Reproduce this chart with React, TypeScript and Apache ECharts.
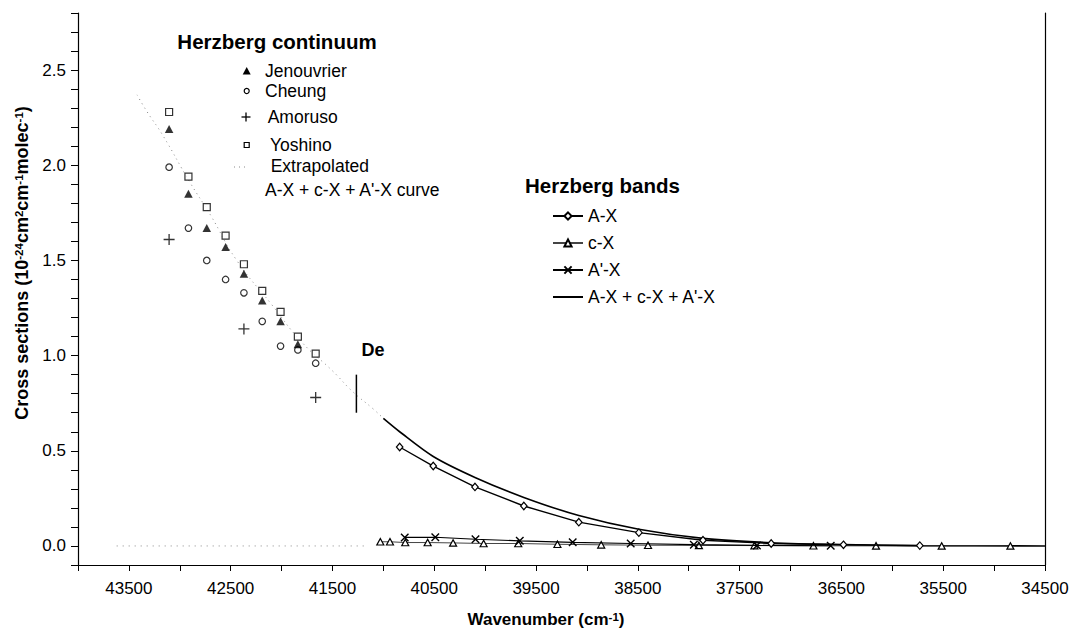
import React, { useEffect, useRef } from "react";
import * as echarts from "echarts";

// Herzberg continuum measurements: [wavenumber cm^-1, cross section 1e-24]
const jenouvrier: [number, number][] = [
  [43105, 2.19], [42915, 1.85], [42735, 1.67], [42550, 1.57], [42370, 1.43],
  [42190, 1.29], [42010, 1.18], [41840, 1.06],
];
const cheung: [number, number][] = [
  [43105, 1.99], [42915, 1.67], [42735, 1.5], [42550, 1.4], [42370, 1.33],
  [42190, 1.18], [42010, 1.05], [41840, 1.03], [41665, 0.96],
];
const amoruso: [number, number][] = [
  [43105, 1.61], [42370, 1.14], [41665, 0.78],
];
const yoshino: [number, number][] = [
  [43105, 2.28], [42915, 1.94], [42735, 1.78], [42550, 1.63], [42370, 1.48],
  [42190, 1.34], [42010, 1.23], [41840, 1.1], [41665, 1.01],
];

// Extrapolated A-X + c-X + A'-X curve above the dissociation limit
const extrapolatedCurve: [number, number][] = [
  [43420, 2.37], [43320, 2.28], [43170, 2.16], [42900, 1.91], [42700, 1.74],
  [42440, 1.5], [42100, 1.27], [41800, 1.07], [41500, 0.92], [41300, 0.81],
  [41100, 0.72], [41000, 0.67],
];
const extrapolatedBase: [number, number][] = [[43620, 0], [41150, 0]];

// Dissociation limit De
const deMarker: [number, number][] = [[41265, 0.7], [41265, 0.9]];

// Herzberg bands
const bandAX: [number, number][] = [
  [40840, 0.52], [40510, 0.42], [40100, 0.31], [39620, 0.21], [39080, 0.125],
  [38490, 0.07], [37860, 0.03], [37190, 0.013], [36480, 0.006], [35730, 0.002],
];
const bandCX: [number, number][] = [
  [41030, 0.022], [40935, 0.022], [40785, 0.018], [40565, 0.018], [40315, 0.016],
  [40015, 0.013], [39675, 0.013], [39290, 0.009], [38860, 0.006], [38400, 0.004],
  [37900, 0.003], [37355, 0.002], [36775, 0.001], [36160, 0.0005], [35515, 0.0002],
  [34840, 0.0001],
];
const bandApX: [number, number][] = [
  [40790, 0.045], [40490, 0.046], [40095, 0.035], [39660, 0.027], [39140, 0.019],
  [38570, 0.013], [37950, 0.007], [37330, 0.003], [36605, 0.001],
];
const bandSum: [number, number][] = [
  [41000, 0.67], [40840, 0.6], [40510, 0.47], [40100, 0.36], [39620, 0.255],
  [39080, 0.16], [38490, 0.088], [37860, 0.04], [37190, 0.017], [36480, 0.007],
  [35730, 0.002], [34500, 0],
];

const FONT = "'Liberation Sans', Arial, Helvetica, sans-serif";
const BLACK = "#000";

const hollow = { color: "#fff", borderColor: BLACK, borderWidth: 1.2 };

export default function App() {
  const ref = useRef<HTMLDivElement>(null);

  useEffect(() => {
    if (!ref.current) return;
    const chart = echarts.init(ref.current, undefined, { renderer: "svg" });

    const textStyle = (size: number, bold = false) => ({
      fontFamily: FONT,
      fontSize: size,
      fontWeight: bold ? "bold" : "normal",
      fill: BLACK,
    });

    const legendText = (x: number, y: number, text: string) => ({
      type: "text",
      x,
      y,
      style: {
        ...textStyle(17.5),
        text,
        align: "left",
        textAlign: "left",
        verticalAlign: "middle",
        textVerticalAlign: "middle",
      },
    });

    const supRich = {
      sup: {
        fontFamily: FONT,
        fontSize: 11.5,
        fontWeight: "bold",
        fill: BLACK,
        verticalAlign: "top",
      },
    };

    const option: any = {
      animation: false,
      backgroundColor: "#fff",
      grid: { left: 78, top: 13, right: 27, bottom: 68, containLabel: false },
      xAxis: {
        type: "value",
        inverse: true,
        min: 34500,
        max: 44000,
        interval: 500,
        axisLine: { show: true, onZero: false, lineStyle: { color: BLACK, width: 1.2 } },
        axisTick: { show: true, length: 6, lineStyle: { color: BLACK, width: 1 } },
        axisLabel: {
          color: BLACK,
          fontFamily: FONT,
          fontSize: 17,
          margin: 15,
          formatter: (v: number) =>
            (Math.round(v) - 43500) % 1000 === 0 ? String(Math.round(v)) : "",
        },
        splitLine: { show: false },
      },
      yAxis: [
        {
          type: "value",
          min: -0.1,
          max: 2.8,
          interval: 0.1,
          axisLine: { show: true, onZero: false, lineStyle: { color: BLACK, width: 1.2 } },
          axisTick: { show: true, length: 7, lineStyle: { color: BLACK, width: 1 } },
          axisLabel: {
            color: BLACK,
            fontFamily: FONT,
            fontSize: 17,
            margin: 12,
            formatter: (v: number) => {
              const k = Math.round(v * 10);
              return k >= 0 && k % 5 === 0 ? (k / 10).toFixed(1) : "";
            },
          },
          splitLine: { show: false },
        },
        {
          type: "value",
          position: "right",
          min: -0.1,
          max: 2.8,
          axisLine: { show: true, onZero: false, lineStyle: { color: BLACK, width: 1.2 } },
          axisTick: { show: false },
          axisLabel: { show: false },
          splitLine: { show: false },
        },
      ],
      legend: {
        data: [
          "A-X",
          "c-X",
          "A'-X",
          {
            name: "A-X + c-X + A'-X",
            itemStyle: { color: "transparent", borderColor: "transparent", borderWidth: 0 },
          },
        ],
        orient: "vertical",
        left: 547,
        top: 202,
        itemWidth: 30,
        itemHeight: 9,
        itemGap: 9,
        selectedMode: false,
        textStyle: { color: BLACK, fontFamily: FONT, fontSize: 17.5 },
      },
      series: [
        {
          name: "Extrapolated",
          type: "line",
          data: extrapolatedCurve,
          smooth: true,
          symbol: "none",
          lineStyle: { color: "#8a8a8a", width: 1, type: [1, 4] },
          z: 1,
        },
        {
          name: "Extrapolated base",
          type: "line",
          data: extrapolatedBase,
          symbol: "none",
          lineStyle: { color: "#8a8a8a", width: 1, type: [1, 5] },
          z: 1,
        },
        {
          name: "De",
          type: "line",
          data: deMarker,
          symbol: "none",
          lineStyle: { color: BLACK, width: 1.5 },
          z: 2,
        },
        {
          name: "A-X + c-X + A'-X",
          type: "line",
          data: bandSum,
          smooth: 0.3,
          symbol: "none",
          lineStyle: { color: BLACK, width: 1.6 },
          itemStyle: { color: BLACK },
          z: 3,
        },
        {
          name: "c-X",
          type: "line",
          data: bandCX,
          symbol: "triangle",
          symbolSize: [7, 6.5],
          showAllSymbol: true,
          lineStyle: { color: "#444", width: 1 },
          itemStyle: hollow,
          z: 4,
        },
        {
          name: "A'-X",
          type: "line",
          data: bandApX,
          symbol: "path://M0,0L10,10M10,0L0,10",
          symbolSize: 7.5,
          showAllSymbol: true,
          lineStyle: { color: BLACK, width: 1.1 },
          itemStyle: { color: "none", borderColor: BLACK, borderWidth: 1.4 },
          z: 5,
        },
        {
          name: "A-X",
          type: "line",
          data: bandAX,
          symbol: "diamond",
          symbolSize: [6.5, 7.5],
          showAllSymbol: true,
          lineStyle: { color: BLACK, width: 1.4 },
          itemStyle: hollow,
          z: 6,
        },
        {
          name: "Cheung",
          type: "scatter",
          data: cheung,
          symbol: "circle",
          symbolSize: 6.5,
          itemStyle: hollow,
          z: 7,
        },
        {
          name: "Amoruso",
          type: "scatter",
          data: amoruso,
          symbol: "path://M5,0L5,10M0,5L10,5",
          symbolSize: 11,
          itemStyle: { color: "none", borderColor: BLACK, borderWidth: 1.3 },
          z: 7,
        },
        {
          name: "Yoshino",
          type: "scatter",
          data: yoshino,
          symbol: "rect",
          symbolSize: 7,
          itemStyle: hollow,
          z: 8,
        },
        {
          name: "Jenouvrier",
          type: "scatter",
          data: jenouvrier,
          symbol: "triangle",
          symbolSize: [8.5, 8],
          itemStyle: { color: BLACK },
          z: 9,
        },
      ],
      graphic: [
        // axis titles
        {
          type: "text",
          x: 22,
          y: 263,
          rotation: Math.PI / 2,
          style: {
            ...textStyle(18, true),
            text: "Cross sections (10{sup|-24}cm{sup|2}cm{sup|-1}molec{sup|-1})",
            align: "center",
            textAlign: "center",
            verticalAlign: "middle",
            textVerticalAlign: "middle",
            rich: supRich,
          },
        },
        {
          type: "text",
          x: 546,
          y: 619,
          style: {
            ...textStyle(17, true),
            text: "Wavenumber (cm{sup|-1})",
            align: "center",
            textAlign: "center",
            verticalAlign: "middle",
            textVerticalAlign: "middle",
            rich: supRich,
          },
        },
        // De label
        {
          type: "text",
          x: 373,
          y: 350,
          style: {
            ...textStyle(18, true),
            text: "De",
            align: "center",
            textAlign: "center",
            verticalAlign: "middle",
            textVerticalAlign: "middle",
          },
        },
        // Herzberg continuum key
        {
          type: "text",
          x: 277,
          y: 41,
          style: {
            ...textStyle(20.5, true),
            text: "Herzberg continuum",
            align: "center",
            textAlign: "center",
            verticalAlign: "middle",
            textVerticalAlign: "middle",
          },
        },
        {
          type: "polygon",
          shape: { points: [[242.7, 74.5], [250.7, 74.5], [246.7, 67]] },
          style: { fill: BLACK },
        },
        legendText(265, 70.7, "Jenouvrier"),
        {
          type: "circle",
          shape: { cx: 246.7, cy: 91, r: 2.5 },
          style: { fill: "#fff", stroke: BLACK, lineWidth: 1.2 },
        },
        legendText(265, 91, "Cheung"),
        {
          type: "line",
          shape: { x1: 241.5, y1: 117, x2: 250.5, y2: 117 },
          style: { stroke: BLACK, lineWidth: 1.3 },
        },
        {
          type: "line",
          shape: { x1: 246, y1: 112.5, x2: 246, y2: 121.5 },
          style: { stroke: BLACK, lineWidth: 1.3 },
        },
        legendText(267.7, 117, "Amoruso"),
        {
          type: "rect",
          shape: { x: 244.2, y: 142.5, width: 5, height: 5 },
          style: { fill: "#fff", stroke: BLACK, lineWidth: 1.2 },
        },
        legendText(270, 144.5, "Yoshino"),
        {
          type: "line",
          shape: { x1: 234, y1: 167, x2: 246, y2: 167 },
          style: { stroke: "#8a8a8a", lineWidth: 1, lineDash: [1, 4] },
        },
        legendText(270.7, 166, "Extrapolated"),
        legendText(265, 190, "A-X + c-X + A'-X curve"),
        // Herzberg bands key title
        {
          type: "text",
          x: 525,
          y: 185,
          style: {
            ...textStyle(20.5, true),
            text: "Herzberg bands",
            align: "left",
            textAlign: "left",
            verticalAlign: "middle",
            textVerticalAlign: "middle",
          },
        },
      ],
    };

    chart.setOption(option);
    return () => chart.dispose();
  }, []);

  return (
    <div
      ref={ref}
      style={{ position: "absolute", left: 0, top: 0, width: 1072, height: 633, background: "#fff" }}
    />
  );
}
